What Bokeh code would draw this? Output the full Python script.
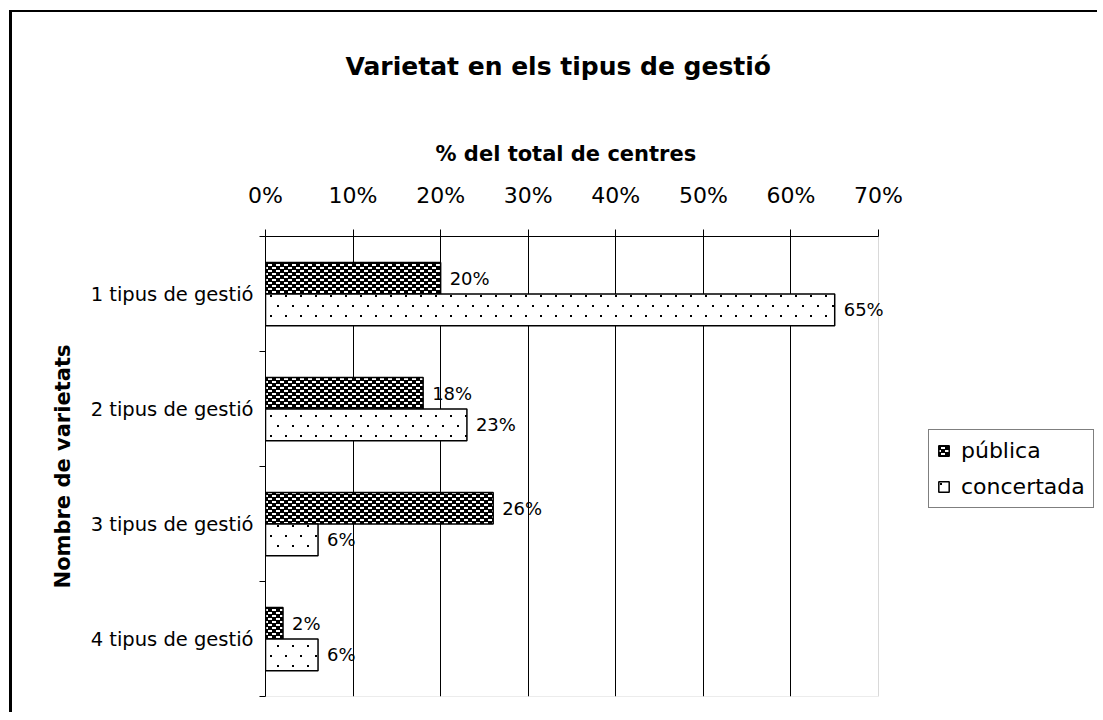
import base64
import struct
import zlib
import numpy as np
from bokeh.plotting import figure
from bokeh.models import (Range1d, FixedTicker, PrintfTickFormatter, ColumnDataSource,
                          LabelSet, Legend, LegendItem, BoxAnnotation, Title, ImageURLTexture)
from bokeh.core.properties import value
from bokeh.embed import file_html
from bokeh.resources import INLINE

# ---- data ----
categories = ["1 tipus de gestió", "2 tipus de gestió", "3 tipus de gestió", "4 tipus de gestió"]
publica = [20, 18, 26, 2]
concertada = [65, 23, 6, 6]
x_ticks = [0, 10, 20, 30, 40, 50, 60, 70]
series_names = ["pública", "concertada"]

title_text = "Varietat en els tipus de gestió"
x_title = "% del total de centres"
y_title = "Nombre de varietats"

FONT = "DejaVu Sans"


# ---- fill textures (small grey-scale PNG tiles) ----
def tile_uri(rows):
    h, w = len(rows), len(rows[0])
    raw = b"".join(b"\x00" + bytes(0 if c == "B" else 255 for c in r) for r in rows)

    def chunk(t, d):
        return struct.pack(">I", len(d)) + t + d + struct.pack(">I", zlib.crc32(t + d) & 0xffffffff)

    png = (b"\x89PNG\r\n\x1a\n"
           + chunk(b"IHDR", struct.pack(">IIBBBBB", w, h, 8, 0, 0, 0, 0))
           + chunk(b"IDAT", zlib.compress(raw))
           + chunk(b"IEND", b""))
    return "data:image/png;base64," + base64.b64encode(png).decode()


pub_tile = ["WWWWBBBB",
            "WWWWBBBB",
            "BBBBBBBB",
            "BBBBWWWW",
            "BBBBWWWW",
            "BBBBBBBB"]
con_tile = [list("W" * 15) for _ in range(20)]
for (yy, xx) in [(3, 3), (13, 10)]:
    for dy in (0, 1):
        for dx in (0, 1):
            con_tile[yy + dy][xx + dx] = "B"
con_tile = ["".join(r) for r in con_tile]

tex_pub = ImageURLTexture(url=tile_uri(pub_tile), repetition="repeat")
tex_con = ImageURLTexture(url=tile_uri(con_tile), repetition="repeat")

idx = np.arange(len(categories))
centers = idx + 0.5
bar_h = 0.275
off = 0.1375

src_pub = ColumnDataSource(dict(y=centers - off, v=publica, t=[f"{v}%" for v in publica]))
src_con = ColumnDataSource(dict(y=centers + off, v=concertada, t=[f"{v}%" for v in concertada]))

# layout (pixels)
W, H = 1088, 702
ML, MR, MT, MB = 253, 0, 224, 18
AXIS_PX = 613                      # pixel length of the 0..70 % axis
frame_w = W - ML - MR
x_end = x_ticks[-1] * frame_w / AXIS_PX   # extra room right of the axis for the legend

p = figure(width=W, height=H, output_backend="svg", toolbar_location=None,
           x_range=Range1d(x_ticks[0], x_end), y_range=Range1d(len(categories), 0),
           x_axis_location="above",
           min_border_left=ML, min_border_right=MR, min_border_top=MT, min_border_bottom=MB,
           styles={"border-left": "3px solid black", "border-top": "2px solid black",
                   "margin-left": "9px", "margin-top": "10px"})
p.background_fill_color = "white"
p.border_fill_color = "white"
p.outline_line_color = None

# plot-area border (grey) limited to the 0..70 % region
p.add_layout(BoxAnnotation(left=x_ticks[0], right=x_ticks[-1], top=0, bottom=len(categories),
                           fill_alpha=0, line_color="#808080", line_width=1, level="underlay"))

# x axis (top)
xa = p.xaxis[0]
xa.bounds = (x_ticks[0], x_ticks[-1])
xa.ticker = FixedTicker(ticks=x_ticks)
xa.formatter = PrintfTickFormatter(format="%d%%")
xa.major_label_text_font = FONT
xa.major_label_text_font_size = "22px"
xa.major_label_text_color = "black"
xa.major_label_standoff = 22
xa.major_tick_out = 7
xa.major_tick_in = 0
xa.minor_tick_line_color = None
xa.axis_line_color = "black"
xa.major_tick_line_color = "black"

# x-axis title (as a title so it can be centred over the 0..70 % part)
xt = Title(text=x_title, align="left", offset=170, standoff=27,
           text_font=FONT, text_font_size="21px", text_font_style="bold", text_color="black")
p.add_layout(xt, "above")
# small spacer between the axis title and the chart title
p.add_layout(Title(text=" ", text_font_size="1px", standoff=8), "above")

# main title
p.title.text = title_text
p.title.align = "left"
p.title.offset = 80
p.title.text_font = FONT
p.title.text_font_size = "25px"
p.title.text_font_style = "bold"
p.title.text_color = "black"
p.title.standoff = 70

# y axis (left)
ya = p.yaxis[0]
ya.ticker = FixedTicker(ticks=list(centers), minor_ticks=list(np.arange(len(categories) + 1)))
ya.major_label_overrides = {float(c): lab for c, lab in zip(centers, categories)}
ya.major_tick_line_color = None
ya.major_tick_out = 0
ya.major_tick_in = 0
ya.minor_tick_out = 6
ya.minor_tick_in = 0
ya.minor_tick_line_color = "black"
ya.axis_line_color = "black"
ya.major_label_text_font = FONT
ya.major_label_text_font_size = "19.5px"
ya.major_label_text_color = "black"
ya.major_label_standoff = 6
ya.axis_label = y_title
ya.axis_label_text_font = FONT
ya.axis_label_text_font_size = "21px"
ya.axis_label_text_font_style = "bold"
ya.axis_label_text_color = "black"
ya.axis_label_standoff = 13

# grids
p.xgrid.ticker = FixedTicker(ticks=x_ticks[1:-1])
p.xgrid.grid_line_color = "black"
p.xgrid.grid_line_width = 1
p.ygrid.visible = False

# bars
r_pub = p.hbar(y="y", right="v", left=0, height=bar_h, source=src_pub,
               fill_color="black", line_color="black", line_width=1.5,
               hatch_pattern=value("pub"), hatch_extra={"pub": tex_pub})
r_con = p.hbar(y="y", right="v", left=0, height=bar_h, source=src_con,
               fill_color="white", line_color="black", line_width=1.5,
               hatch_pattern=value("con"), hatch_extra={"con": tex_con})

# data labels
for s in (src_pub, src_con):
    p.add_layout(LabelSet(x="v", y="y", text="t", source=s, x_offset=9,
                          text_baseline="middle", text_align="left",
                          text_font=value(FONT), text_font_size=value("18px"),
                          text_color="black"))

# legend inside the (extended) frame, right of the 70 % line
legend = Legend(items=[LegendItem(label=series_names[0], renderers=[r_pub]),
                       LegendItem(label=series_names[1], renderers=[r_con])],
                location=(928 - 12 - ML, (H - MB) - (508 - 12)),
                padding=8, spacing=11,
                glyph_width=13, glyph_height=13, label_height=24, label_standoff=11,
                label_text_font=FONT, label_text_font_size="22px", label_text_color="black",
                border_line_color="black", border_line_width=1,
                background_fill_color="white", background_fill_alpha=1)
p.add_layout(legend, "center")

open("out.html", "w").write(file_html(p, INLINE))
